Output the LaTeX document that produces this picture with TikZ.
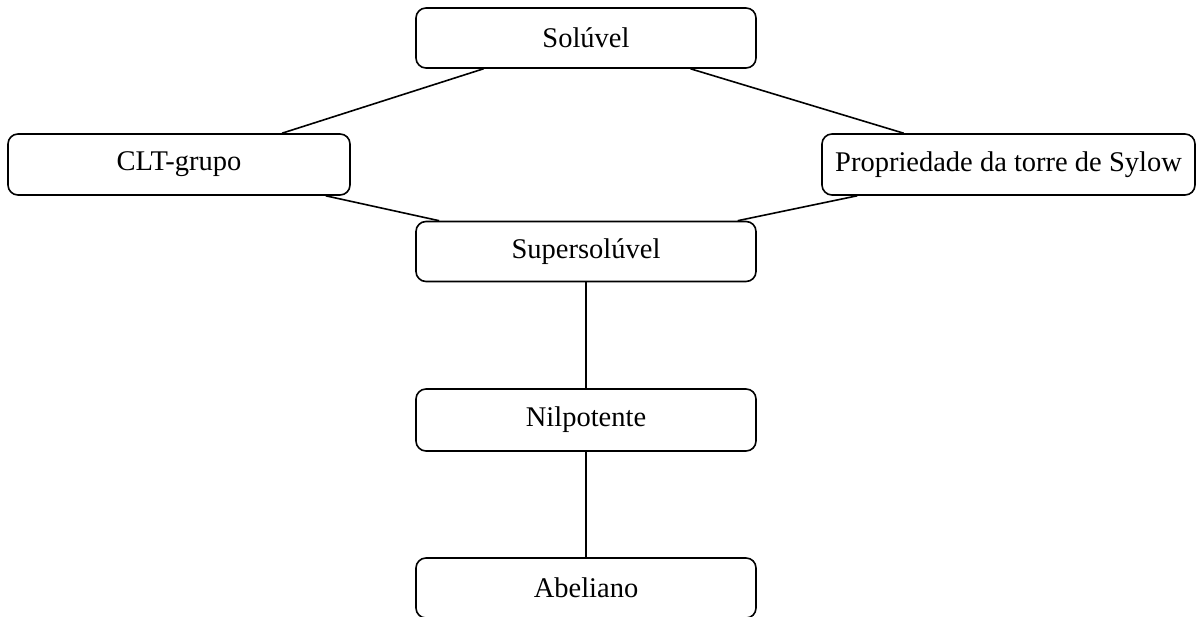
\documentclass[tikz,border=0pt]{standalone}
\usepackage{fontspec}
\setmainfont{Liberation Serif}
\usetikzlibrary{calc}
\begin{document}
\begin{tikzpicture}[x=1pt,y=-1pt,
  box/.style={draw,line width=1.6pt,rounded corners=10pt,minimum height=60pt,inner sep=0pt,font=\fontsize{28.5}{34}\selectfont},
  conn/.style={line width=1.6pt}]
\useasboundingbox (0,0) rectangle (1196,617);
\node[box,minimum width=340pt] (sol) at (586,38) {Solúvel};
\node[box,minimum width=342pt,minimum height=61pt] (clt) at (179,164.5) {CLT-grupo};
\node[box,minimum width=373pt,minimum height=61pt] (syl) at (1008.5,164.5) {Propriedade da torre de Sylow};
\node[box,minimum width=340pt] (sup) at (586,251.5) {Supersolúvel};
\node[box,minimum width=340pt,minimum height=62pt] (nil) at (586,420) {Nilpotente};
\node[box,minimum width=340pt] (abe) at (586,588) {Abeliano};
\draw[conn] ($(sol.south west)!0.2!(sol.south east)$) -- ($(clt.north west)!0.8!(clt.north east)$);
\draw[conn] ($(sol.south west)!0.806!(sol.south east)$) -- ($(syl.north west)!0.22!(syl.north east)$);
\draw[conn] ($(clt.south west)!0.927!(clt.south east)$) -- ($(sup.north west)!0.07!(sup.north east)$);
\draw[conn] ($(syl.south west)!0.096!(syl.south east)$) -- ($(sup.north west)!0.944!(sup.north east)$);
\draw[conn] (sup.south) -- (nil.north);
\draw[conn] (nil.south) -- (abe.north);
\end{tikzpicture}
\end{document}
